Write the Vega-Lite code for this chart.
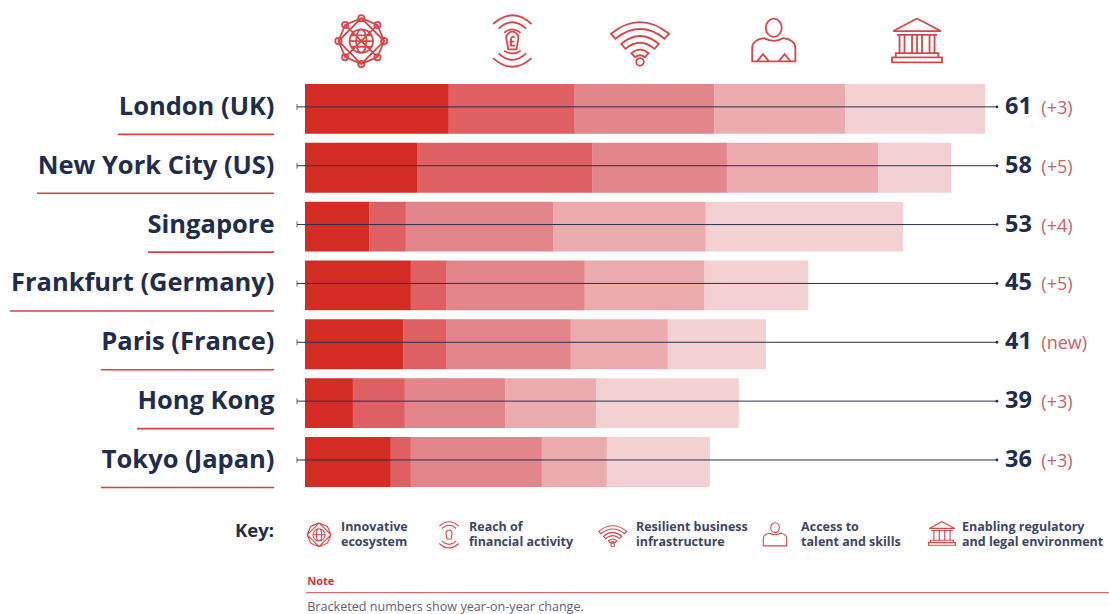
{
"$schema":"https://vega.github.io/schema/vega-lite/v6.json",
"width":804,"height":588.5,
"autosize":{"type":"none"},
"padding":{"left":305,"top":20.6,"right":0,"bottom":4.9},
"background":"#ffffff",
"config":{"view":{"stroke":null},"axisX":{"disable":true},"font":"Open Sans"},
"datasets":{
"segments":[
{"city":"London (UK)","pillar":"Innovative ecosystem","step":1,"score":12.9},
{"city":"London (UK)","pillar":"Reach of financial activity","step":2,"score":11.3},
{"city":"London (UK)","pillar":"Resilient business infrastructure","step":3,"score":12.5},
{"city":"London (UK)","pillar":"Access to talent and skills","step":4,"score":11.75},
{"city":"London (UK)","pillar":"Enabling regulatory and legal environment","step":5,"score":12.55},
{"city":"New York City (US)","pillar":"Innovative ecosystem","step":1,"score":10.05},
{"city":"New York City (US)","pillar":"Reach of financial activity","step":2,"score":15.7},
{"city":"New York City (US)","pillar":"Resilient business infrastructure","step":3,"score":12.1},
{"city":"New York City (US)","pillar":"Access to talent and skills","step":4,"score":13.55},
{"city":"New York City (US)","pillar":"Enabling regulatory and legal environment","step":5,"score":6.55},
{"city":"Singapore","pillar":"Innovative ecosystem","step":1,"score":5.75},
{"city":"Singapore","pillar":"Reach of financial activity","step":2,"score":3.3},
{"city":"Singapore","pillar":"Resilient business infrastructure","step":3,"score":13.2},
{"city":"Singapore","pillar":"Access to talent and skills","step":4,"score":13.7},
{"city":"Singapore","pillar":"Enabling regulatory and legal environment","step":5,"score":17.7},
{"city":"Frankfurt (Germany)","pillar":"Innovative ecosystem","step":1,"score":9.5},
{"city":"Frankfurt (Germany)","pillar":"Reach of financial activity","step":2,"score":3.15},
{"city":"Frankfurt (Germany)","pillar":"Resilient business infrastructure","step":3,"score":12.45},
{"city":"Frankfurt (Germany)","pillar":"Access to talent and skills","step":4,"score":10.75},
{"city":"Frankfurt (Germany)","pillar":"Enabling regulatory and legal environment","step":5,"score":9.3},
{"city":"Paris (France)","pillar":"Innovative ecosystem","step":1,"score":8.8},
{"city":"Paris (France)","pillar":"Reach of financial activity","step":2,"score":3.85},
{"city":"Paris (France)","pillar":"Resilient business infrastructure","step":3,"score":11.2},
{"city":"Paris (France)","pillar":"Access to talent and skills","step":4,"score":8.7},
{"city":"Paris (France)","pillar":"Enabling regulatory and legal environment","step":5,"score":8.8},
{"city":"Hong Kong","pillar":"Innovative ecosystem","step":1,"score":4.3},
{"city":"Hong Kong","pillar":"Reach of financial activity","step":2,"score":4.66},
{"city":"Hong Kong","pillar":"Resilient business infrastructure","step":3,"score":9},
{"city":"Hong Kong","pillar":"Access to talent and skills","step":4,"score":8.15},
{"city":"Hong Kong","pillar":"Enabling regulatory and legal environment","step":5,"score":12.8},
{"city":"Tokyo (Japan)","pillar":"Innovative ecosystem","step":1,"score":7.7},
{"city":"Tokyo (Japan)","pillar":"Reach of financial activity","step":2,"score":1.8},
{"city":"Tokyo (Japan)","pillar":"Resilient business infrastructure","step":3,"score":11.75},
{"city":"Tokyo (Japan)","pillar":"Access to talent and skills","step":4,"score":5.83},
{"city":"Tokyo (Japan)","pillar":"Enabling regulatory and legal environment","step":5,"score":9.24}
],
"totals":[
{"city":"London (UK)","total":"61","change":"(+3)"},
{"city":"New York City (US)","total":"58","change":"(+5)"},
{"city":"Singapore","total":"53","change":"(+4)"},
{"city":"Frankfurt (Germany)","total":"45","change":"(+5)"},
{"city":"Paris (France)","total":"41","change":"(new)"},
{"city":"Hong Kong","total":"39","change":"(+3)"},
{"city":"Tokyo (Japan)","total":"36","change":"(+3)"}
],
"one":[{"id":1}]
},
"layer":[
{"data":{"name":"segments"},"mark":{"type":"bar"},
 "encoding":{
 "y":{"field":"city","type":"nominal","title":null,
  "scale":{"domain":["icons","London (UK)","New York City (US)","Singapore","Frankfurt (Germany)","Paris (France)","Hong Kong","Tokyo (Japan)","key","note"],"paddingInner":0.1525,"paddingOuter":0.07625},
  "axis":{"values":["London (UK)","New York City (US)","Singapore","Frankfurt (Germany)","Paris (France)","Hong Kong","Tokyo (Japan)"],"domain":false,"ticks":false,"grid":false,"labelPadding":31,"labelFontSize":25.5,"labelFontWeight":"bold","labelColor":"#1f2d4d","labelFont":"Open Sans","labelLimit":300,"labelOffset":-2,"title":null}},
 "x":{"field":"score","type":"quantitative","stack":"zero","scale":{"domain":[0,72.12],"nice":false,"zero":false},"title":null},
 "color":{"field":"pillar","type":"nominal","legend":null,"scale":{"domain":["Innovative ecosystem","Reach of financial activity","Resilient business infrastructure","Access to talent and skills","Enabling regulatory and legal environment"],"range":["#d22c25","#de6063","#e3868b","#ecabae","#f3d1d3"]}},
 "order":{"field":"step","type":"quantitative"}
 }},
{"data":{"name":"totals"},"mark":{"type":"rule","color":"#26324f","strokeWidth":1,"yOffset":-2},
 "encoding":{"y":{"field":"city","type":"nominal"},"x":{"datum":-0.72,"type":"quantitative"},"x2":{"datum":62.07}}},
{"data":{"name":"totals"},"mark":{"type":"tick","orient":"vertical","color":"#26324f","thickness":1,"size":6,"yOffset":-2},
 "encoding":{"y":{"field":"city","type":"nominal"},"x":{"datum":-0.72,"type":"quantitative"}}},
{"data":{"name":"totals"},"mark":{"type":"point","filled":true,"color":"#26324f","size":8,"opacity":1,"yOffset":-2},
 "encoding":{"y":{"field":"city","type":"nominal"},"x":{"datum":62.07,"type":"quantitative"}}},
{"data":{"name":"totals"},"mark":{"type":"text","align":"left","baseline":"middle","fontSize":23.5,"fontWeight":"bold","color":"#1f2d4d","font":"Open Sans","yOffset":-2},
 "encoding":{"y":{"field":"city","type":"nominal"},"x":{"datum":62.8,"type":"quantitative"},"text":{"field":"total"}}},
{"data":{"name":"totals"},"mark":{"type":"text","align":"left","baseline":"middle","fontSize":18,"color":"#c9606a","font":"Open Sans","yOffset":0},
 "encoding":{"y":{"field":"city","type":"nominal"},"x":{"datum":66.05,"type":"quantitative"},"text":{"field":"change"}}},

{"mark":{"type":"rule","color":"#d9403f","strokeWidth":1.6,"yOffset":25.5},"data":{"values":[{"city":"London (UK)"}]},"encoding":{"y":{"field":"city","type":"nominal"},"x":{"datum":-16.77,"type":"quantitative"},"x2":{"datum":-2.78}}},
{"mark":{"type":"rule","color":"#d9403f","strokeWidth":1.6,"yOffset":25.5},"data":{"values":[{"city":"New York City (US)"}]},"encoding":{"y":{"field":"city","type":"nominal"},"x":{"datum":-24.04,"type":"quantitative"},"x2":{"datum":-2.78}}},
{"mark":{"type":"rule","color":"#d9403f","strokeWidth":1.6,"yOffset":25.5},"data":{"values":[{"city":"Singapore"}]},"encoding":{"y":{"field":"city","type":"nominal"},"x":{"datum":-14.08,"type":"quantitative"},"x2":{"datum":-2.78}}},
{"mark":{"type":"rule","color":"#d9403f","strokeWidth":1.6,"yOffset":25.5},"data":{"values":[{"city":"Frankfurt (Germany)"}]},"encoding":{"y":{"field":"city","type":"nominal"},"x":{"datum":-26.46,"type":"quantitative"},"x2":{"datum":-2.78}}},
{"mark":{"type":"rule","color":"#d9403f","strokeWidth":1.6,"yOffset":25.5},"data":{"values":[{"city":"Paris (France)"}]},"encoding":{"y":{"field":"city","type":"nominal"},"x":{"datum":-18.3,"type":"quantitative"},"x2":{"datum":-2.78}}},
{"mark":{"type":"rule","color":"#d9403f","strokeWidth":1.6,"yOffset":25.5},"data":{"values":[{"city":"Hong Kong"}]},"encoding":{"y":{"field":"city","type":"nominal"},"x":{"datum":-15.07,"type":"quantitative"},"x2":{"datum":-2.78}}},
{"mark":{"type":"rule","color":"#d9403f","strokeWidth":1.6,"yOffset":25.5},"data":{"values":[{"city":"Tokyo (Japan)"}]},"encoding":{"y":{"field":"city","type":"nominal"},"x":{"datum":-18.3,"type":"quantitative"},"x2":{"datum":-2.78}}},

{"data":{"name":"one"},"mark":{"type":"point","filled":false,"opacity":1,"color":"#d5484a","strokeWidth":1.8,"size":2704,"yOffset":-9,"shape":"M0 -.88 L.62 -.62 L.88 0 L.62 .62 L0 .88 L-.62 .62 L-.88 0 L-.62 -.62 Z M0 -.88 L.88 0 L0 .88 L-.88 0 Z M-.62 -.62 L.62 .62 M.62 -.62 L-.62 .62 M-.45 0 a.45 .45 0 1 0 .9 0 a.45 .45 0 1 0 -.9 0 M0 -.45 a.2 .45 0 1 0 0 .9 a.2 .45 0 1 0 0 -.9 M-.45 0 L.45 0 M-.39 -.22 L.39 -.22 M-.39 .22 L.39 .22 M-.12 -.88 a.12 .12 0 1 0 .24 0 a.12 .12 0 1 0 -.24 0 M.5 -.62 a.12 .12 0 1 0 .24 0 a.12 .12 0 1 0 -.24 0 M.76 0 a.12 .12 0 1 0 .24 0 a.12 .12 0 1 0 -.24 0 M.5 .62 a.12 .12 0 1 0 .24 0 a.12 .12 0 1 0 -.24 0 M-.12 .88 a.12 .12 0 1 0 .24 0 a.12 .12 0 1 0 -.24 0 M-.74 .62 a.12 .12 0 1 0 .24 0 a.12 .12 0 1 0 -.24 0 M-1 0 a.12 .12 0 1 0 .24 0 a.12 .12 0 1 0 -.24 0 M-.74 -.62 a.12 .12 0 1 0 .24 0 a.12 .12 0 1 0 -.24 0"},"encoding":{"x":{"datum":5.05,"type":"quantitative"},"y":{"datum":"icons","type":"nominal"}}},
{"data":{"name":"one"},"mark":{"type":"point","filled":false,"opacity":1,"color":"#d5484a","strokeWidth":1.8,"size":3025,"yOffset":-9,"shape":"M-.7 -.62 Q0 -1.25 .7 -.62 M-.5 -.45 Q0 -.92 .5 -.45 M-.3 -.3 Q0 -.55 .3 -.3 M-.7 .62 Q0 1.25 .7 .62 M-.5 .45 Q0 .92 .5 .45 M-.3 .35 Q0 .55 .3 .35 M-.15 .3 L-.21 -.05 A.22 .22 0 1 1 .21 -.05 L.15 .3 Z M.08 -.12 Q0 -.22 -.05 -.08 L-.05 .17 M-.1 .17 L.1 .17 M-.11 .02 L.06 .02"},"encoding":{"x":{"datum":18.6,"type":"quantitative"},"y":{"datum":"icons","type":"nominal"}}},
{"data":{"name":"one"},"mark":{"type":"point","filled":false,"opacity":1,"color":"#d5484a","strokeWidth":1.8,"size":3364,"yOffset":-9,"shape":"M-1 -.25 Q0 -1.05 1 -.25 L.85 -.08 Q0 -.75 -.85 -.08 Z M-.65 .1 Q0 -.45 .65 .1 L.5 .27 Q0 -.15 -.5 .27 Z M-.3 .42 Q0 .17 .3 .42 L.17 .56 Q0 .42 -.17 .56 Z M-.13 .72 a.13 .13 0 1 0 .26 0 a.13 .13 0 1 0 -.26 0"},"encoding":{"x":{"datum":30.05,"type":"quantitative"},"y":{"datum":"icons","type":"nominal"}}},
{"data":{"name":"one"},"mark":{"type":"point","filled":false,"opacity":1,"color":"#d5484a","strokeWidth":1.8,"size":2304,"yOffset":-9,"shape":"M-.33 -.55 a.33 .38 0 1 0 .66 0 a.33 .38 0 1 0 -.66 0 M-.9 .85 L-.9 .3 Q-.9 -.05 -.4 -.12 Q0 .1 .4 -.12 Q.9 -.05 .9 .3 L.9 .85 Z M-.7 .85 L-.45 .55 L-.2 .85 M.7 .85 L.45 .55 L.2 .85"},"encoding":{"x":{"datum":42.05,"type":"quantitative"},"y":{"datum":"icons","type":"nominal"}}},
{"data":{"name":"one"},"mark":{"type":"point","filled":false,"opacity":1,"color":"#d5484a","strokeWidth":1.8,"size":2500,"yOffset":-9,"shape":"M0 -.9 L.95 -.4 L-.95 -.4 Z M-.8 -.25 L.8 -.25 M-.7 -.25 L-.7 .45 M-.5 -.25 L-.5 .45 M-.2 -.25 L-.2 .45 M0 -.25 L0 .45 M.2 -.25 L.2 .45 M.5 -.25 L.5 .45 M.7 -.25 L.7 .45 M-.85 .48 L.85 .48 L.85 .65 L-.85 .65 Z M-1 .65 L1 .65 L1 .85 L-1 .85 Z"},"encoding":{"x":{"datum":54.9,"type":"quantitative"},"y":{"datum":"icons","type":"nominal"}}},

{"data":{"name":"one"},"mark":{"type":"point","filled":false,"opacity":1,"color":"#d5484a","strokeWidth":1.1,"size":729,"yOffset":14,"shape":"M0 -.88 L.62 -.62 L.88 0 L.62 .62 L0 .88 L-.62 .62 L-.88 0 L-.62 -.62 Z M0 -.88 L.88 0 L0 .88 L-.88 0 Z M-.45 0 a.45 .45 0 1 0 .9 0 a.45 .45 0 1 0 -.9 0 M0 -.45 a.2 .45 0 1 0 0 .9 a.2 .45 0 1 0 0 -.9 M-.45 0 L.45 0"},"encoding":{"x":{"datum":1.26,"type":"quantitative"},"y":{"datum":"key","type":"nominal"}}},
{"data":{"name":"one"},"mark":{"type":"point","filled":false,"opacity":1,"color":"#d5484a","strokeWidth":1.1,"size":784,"yOffset":14,"shape":"M-.7 -.62 Q0 -1.25 .7 -.62 M-.5 -.45 Q0 -.92 .5 -.45 M-.7 .62 Q0 1.25 .7 .62 M-.5 .45 Q0 .92 .5 .45 M-.15 .3 L-.21 -.05 A.22 .22 0 1 1 .21 -.05 L.15 .3 Z"},"encoding":{"x":{"datum":12.92,"type":"quantitative"},"y":{"datum":"key","type":"nominal"}}},
{"data":{"name":"one"},"mark":{"type":"point","filled":false,"opacity":1,"color":"#d5484a","strokeWidth":1.1,"size":784,"yOffset":14,"shape":"M-1 -.25 Q0 -1.05 1 -.25 L.85 -.08 Q0 -.75 -.85 -.08 Z M-.65 .1 Q0 -.45 .65 .1 L.5 .27 Q0 -.15 -.5 .27 Z M-.3 .42 Q0 .17 .3 .42 L.17 .56 Q0 .42 -.17 .56 Z M-.13 .72 a.13 .13 0 1 0 .26 0 a.13 .13 0 1 0 -.26 0"},"encoding":{"x":{"datum":27.6,"type":"quantitative"},"y":{"datum":"key","type":"nominal"}}},
{"data":{"name":"one"},"mark":{"type":"point","filled":false,"opacity":1,"color":"#d5484a","strokeWidth":1.1,"size":676,"yOffset":14,"shape":"M-.33 -.55 a.33 .38 0 1 0 .66 0 a.33 .38 0 1 0 -.66 0 M-.9 .85 L-.9 .3 Q-.9 -.05 -.4 -.12 Q0 .1 .4 -.12 Q.9 -.05 .9 .3 L.9 .85 Z"},"encoding":{"x":{"datum":42.16,"type":"quantitative"},"y":{"datum":"key","type":"nominal"}}},
{"data":{"name":"one"},"mark":{"type":"point","filled":false,"opacity":1,"color":"#d5484a","strokeWidth":1.1,"size":729,"yOffset":13,"shape":"M0 -.9 L.95 -.4 L-.95 -.4 Z M-.8 -.25 L.8 -.25 M-.6 -.25 L-.6 .45 M-.2 -.25 L-.2 .45 M.2 -.25 L.2 .45 M.6 -.25 L.6 .45 M-.85 .48 L.85 .48 L.85 .65 L-.85 .65 Z M-1 .65 L1 .65 L1 .85 L-1 .85 Z"},"encoding":{"x":{"datum":57.14,"type":"quantitative"},"y":{"datum":"key","type":"nominal"}}},

{"data":{"values":[{"label":"Key:"}]},"mark":{"type":"text","align":"right","baseline":"middle","fontSize":18.5,"fontWeight":"bold","color":"#1f2d4d","font":"Open Sans","yOffset":10},"encoding":{"x":{"datum":-2.78,"type":"quantitative"},"y":{"datum":"key","type":"nominal"},"text":{"field":"label"}}},
{"data":{"values":[{"label":"Innovative\necosystem"}]},"mark":{"type":"text","align":"left","baseline":"middle","lineBreak":"\n","lineHeight":15,"fontSize":12.5,"fontWeight":"bold","color":"#3b4663","font":"Open Sans","yOffset":6},"encoding":{"x":{"datum":3.23,"type":"quantitative"},"y":{"datum":"key","type":"nominal"},"text":{"field":"label"}}},
{"data":{"values":[{"label":"Reach of\nfinancial activity"}]},"mark":{"type":"text","align":"left","baseline":"middle","lineBreak":"\n","lineHeight":15,"fontSize":12.5,"fontWeight":"bold","color":"#3b4663","font":"Open Sans","yOffset":6},"encoding":{"x":{"datum":14.71,"type":"quantitative"},"y":{"datum":"key","type":"nominal"},"text":{"field":"label"}}},
{"data":{"values":[{"label":"Resilient business\ninfrastructure"}]},"mark":{"type":"text","align":"left","baseline":"middle","lineBreak":"\n","lineHeight":15,"fontSize":12.5,"fontWeight":"bold","color":"#3b4663","font":"Open Sans","yOffset":6},"encoding":{"x":{"datum":29.69,"type":"quantitative"},"y":{"datum":"key","type":"nominal"},"text":{"field":"label"}}},
{"data":{"values":[{"label":"Access to\ntalent and skills"}]},"mark":{"type":"text","align":"left","baseline":"middle","lineBreak":"\n","lineHeight":15,"fontSize":12.5,"fontWeight":"bold","color":"#3b4663","font":"Open Sans","yOffset":6},"encoding":{"x":{"datum":44.5,"type":"quantitative"},"y":{"datum":"key","type":"nominal"},"text":{"field":"label"}}},
{"data":{"values":[{"label":"Enabling regulatory\nand legal environment"}]},"mark":{"type":"text","align":"left","baseline":"middle","lineBreak":"\n","lineHeight":15,"fontSize":12.5,"fontWeight":"bold","color":"#3b4663","font":"Open Sans","yOffset":6},"encoding":{"x":{"datum":58.93,"type":"quantitative"},"y":{"datum":"key","type":"nominal"},"text":{"field":"label"}}},

{"data":{"values":[{"label":"Note"}]},"mark":{"type":"text","align":"left","baseline":"middle","fontSize":11,"fontWeight":"bold","color":"#d5383a","font":"Open Sans","yOffset":2},"encoding":{"x":{"datum":0.2,"type":"quantitative"},"y":{"datum":"note","type":"nominal"},"text":{"field":"label"}}},
{"data":{"name":"one"},"mark":{"type":"rule","color":"#dc6a6c","strokeWidth":1.4,"yOffset":13},"encoding":{"y":{"datum":"note","type":"nominal"},"x":{"datum":0.1,"type":"quantitative"},"x2":{"datum":72.12}}},
{"data":{"values":[{"label":"Bracketed numbers show year-on-year change."}]},"mark":{"type":"text","align":"left","baseline":"middle","fontSize":12.6,"color":"#5c6472","font":"Open Sans","yOffset":27},"encoding":{"x":{"datum":0.2,"type":"quantitative"},"y":{"datum":"note","type":"nominal"},"text":{"field":"label"}}}
]
}
